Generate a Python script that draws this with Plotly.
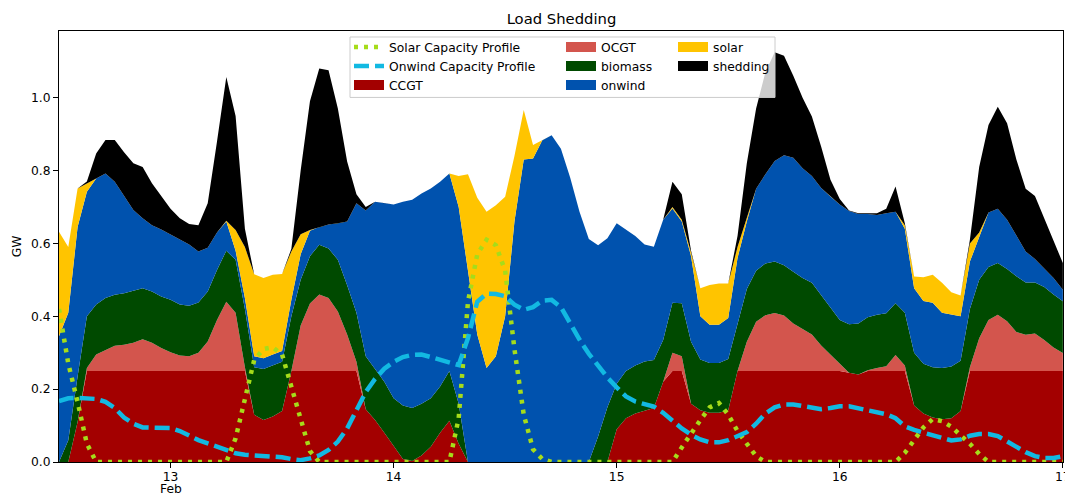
import pandas as pd
import plotly.graph_objects as go

# Hourly snapshots, 12 Feb 12:00 -> 17 Feb 00:00
snapshots = pd.date_range("2013-02-12 12:00", "2013-02-17 00:00", freq="h")

# Dispatch per carrier (GW)
ccgt = [0, 0, 0.11, 0.25, 0.25, 0.25, 0.25, 0.25, 0.25, 0.25, 0.25, 0.25, 0.25, 0.25, 0.25, 0.25, 0.25, 0.25, 0.25, 0.25, 0.25,
        0.13, 0.115, 0.125, 0.14, 0.25, 0.25, 0.25, 0.25, 0.25, 0.25, 0.25, 0.25,
        0.145, 0.115, 0.08, 0.045, 0.008, 0.003, 0.018, 0.042, 0.08, 0.113, 0.05,
        0, 0, 0, 0, 0, 0, 0, 0, 0, 0, 0, 0, 0, 0, 0, 0,
        0.09, 0.12, 0.133, 0.14, 0.148, 0.22, 0.25, 0.25, 0.16, 0.142, 0.135, 0.135, 0.142,
        0.25, 0.25, 0.25, 0.25, 0.25, 0.25, 0.25, 0.25, 0.25, 0.25, 0.25, 0.25, 0.245, 0.24,
        0.25, 0.25, 0.25, 0.25, 0.25, 0.155, 0.133, 0.122, 0.117, 0.12, 0.14,
        0.25, 0.25, 0.25, 0.25, 0.25, 0.25, 0.25, 0.25, 0.25, 0.25, 0.25]

ocgt = [0, 0, 0, 0.008, 0.045, 0.058, 0.069, 0.072, 0.077, 0.087, 0.077, 0.063, 0.051, 0.042, 0.04, 0.05, 0.081, 0.14, 0.19, 0.16, 0.01,
        0, 0, 0, 0, 0, 0.125, 0.185, 0.21, 0.2, 0.163, 0.1, 0.025,
        0, 0, 0, 0, 0, 0, 0, 0, 0, 0, 0, 0, 0, 0, 0, 0, 0, 0, 0, 0, 0, 0, 0, 0, 0, 0, 0, 0, 0, 0, 0, 0, 0,
        0.05, 0.04, 0, 0, 0, 0, 0, 0,
        0.08, 0.135, 0.153, 0.159, 0.152, 0.13, 0.114, 0.1, 0.07, 0.045, 0.02,
        0, 0, 0.002, 0.008, 0.013, 0.044, 0.015, 0, 0, 0, 0, 0, 0,
        0.01, 0.09, 0.14, 0.154, 0.136, 0.107, 0.099, 0.103, 0.085, 0.064, 0.049]

biomass = [0, 0.06, 0.125, 0.142, 0.137, 0.142, 0.14, 0.141, 0.143, 0.14, 0.141, 0.141, 0.144, 0.14, 0.139, 0.138, 0.137, 0.137, 0.14, 0.145, 0.16,
           0.13, 0.14, 0.14, 0.135, 0.15, 0.125, 0.13, 0.136, 0.136, 0.142, 0.135, 0.135,
           0.145, 0.14, 0.14, 0.13, 0.147, 0.145, 0.142, 0.133, 0.127, 0.137, 0.11,
           0, 0, 0, 0, 0, 0, 0, 0, 0, 0, 0, 0, 0, 0,
           0.07, 0.15, 0.125, 0.13, 0.132, 0.136, 0.132, 0.115, 0.137, 0.146, 0.17, 0.139, 0.137, 0.137, 0.141,
           0.13, 0.145, 0.14, 0.142, 0.141, 0.138, 0.142, 0.141, 0.142, 0.138, 0.13, 0.12, 0.133, 0.14, 0.145, 0.146,
           0.145, 0.142, 0.145, 0.145, 0.137, 0.138, 0.141, 0.142, 0.138, 0.16, 0.16, 0.145, 0.142, 0.144, 0.153,
           0.144, 0.14, 0.145, 0.146, 0.142]

onwind = [0.345, 0.35, 0.41, 0.342, 0.346, 0.342, 0.31, 0.267, 0.222, 0.192, 0.182, 0.184, 0.179, 0.18, 0.168, 0.14, 0.12, 0.103, 0.08, 0.025, 0.03,
          0.03, 0.03, 0.03, 0.03, 0.045, 0.07, 0.07, 0.049, 0.066, 0.1, 0.175, 0.3,
          0.4, 0.459, 0.49, 0.532, 0.559, 0.572, 0.577, 0.576, 0.562, 0.542, 0.54,
          0.52, 0.35, 0.258, 0.29, 0.4, 0.66, 0.83, 0.833, 0.883, 0.897, 0.86, 0.78, 0.687, 0.612,
          0.525, 0.464, 0.44, 0.387, 0.355, 0.321, 0.311, 0.33, 0.259, 0.224, 0.235, 0.119, 0.105, 0.105, 0.112,
          0.18, 0.185, 0.225, 0.245, 0.276, 0.302, 0.313, 0.301, 0.293, 0.294, 0.304, 0.317, 0.311, 0.301, 0.284, 0.274,
          0.275, 0.251, 0.23, 0.177, 0.172, 0.177, 0.152, 0.143, 0.122, 0.13, 0.12, 0.15, 0.149, 0.135, 0.112,
          0.085, 0.064, 0.05, 0.045, 0.032]

solar = [0.287, 0.18, 0.106, 0.023, 0.002, 0, 0, 0, 0, 0, 0, 0, 0, 0, 0, 0, 0, 0,
         0.002, 0.057, 0.14, 0.225, 0.22, 0.219, 0.211, 0.133, 0.055, 0.002,
         0, 0, 0, 0, 0, 0, 0, 0, 0, 0, 0, 0, 0, 0, 0,
         0.085, 0.27, 0.375, 0.429, 0.415, 0.328, 0.18, 0.136, 0.037,
         0, 0, 0, 0, 0, 0, 0, 0, 0, 0, 0, 0, 0, 0,
         0.004, 0.005, 0.01, 0.077, 0.109, 0.113, 0.095, 0.03, 0.01,
         0, 0, 0, 0, 0, 0, 0, 0, 0, 0, 0, 0, 0, 0, 0, 0,
         0.01, 0.032, 0.065, 0.077, 0.082, 0.061, 0.057, 0.05, 0.01,
         0, 0, 0, 0, 0, 0, 0, 0, 0]

shedding = [0, 0, 0, 0.005, 0.067, 0.092, 0.115, 0.12, 0.128, 0.141, 0.115, 0.092, 0.071, 0.057, 0.056, 0.072, 0.122, 0.25, 0.395, 0.313, 0.05,
            0, 0, 0, 0, 0.007, 0.175, 0.353, 0.435, 0.423, 0.315, 0.165, 0.025, 0.01,
            0, 0, 0, 0, 0, 0, 0, 0, 0, 0, 0, 0, 0, 0, 0, 0, 0, 0, 0, 0, 0, 0, 0, 0, 0, 0, 0, 0, 0, 0, 0, 0,
            0.069, 0.07, 0.005, 0, 0, 0, 0,
            0.03, 0.15, 0.22, 0.28, 0.299, 0.273, 0.225, 0.194, 0.163, 0.113, 0.046, 0.015, 0.001, 0.002, 0.002, 0.005,
            0.012, 0.069, 0.005, 0, 0, 0, 0, 0, 0,
            0.01, 0.18, 0.24, 0.28, 0.265, 0.208, 0.172, 0.173, 0.14, 0.1, 0.073]

# Per-unit availability profiles
solar_cf = [0.42, 0.27, 0.165, 0.05, 0, 0, 0, 0, 0, 0, 0, 0, 0, 0, 0, 0, 0, 0,
            0.0, 0.065, 0.175, 0.28, 0.31, 0.315, 0.295, 0.21, 0.115, 0.03,
            0, 0, 0, 0, 0, 0, 0, 0, 0, 0, 0, 0, 0, 0, 0,
            0.12, 0.44, 0.57, 0.61, 0.595, 0.525, 0.31, 0.13, 0.035, 0.008,
            0, 0, 0, 0, 0, 0, 0, 0, 0, 0, 0, 0, 0, 0,
            0.04, 0.08, 0.115, 0.15, 0.162, 0.13, 0.085, 0.05, 0.016,
            0, 0, 0, 0, 0, 0, 0, 0, 0, 0, 0, 0, 0, 0, 0,
            0.025, 0.06, 0.095, 0.118, 0.112, 0.097, 0.075, 0.05, 0.022,
            0, 0, 0, 0, 0, 0, 0, 0, 0]

onwind_cf = [0.167, 0.175, 0.176, 0.176, 0.173, 0.165, 0.148, 0.122, 0.105, 0.095, 0.094, 0.094, 0.093, 0.085, 0.072, 0.06, 0.051, 0.041,
             0.031, 0.024, 0.02, 0.018, 0.017, 0.016, 0.013, 0.008, 0.005, 0.01, 0.018, 0.033, 0.056, 0.092, 0.142, 0.192, 0.228, 0.256,
             0.275, 0.288, 0.294, 0.295, 0.288, 0.28, 0.272, 0.266, 0.34, 0.44, 0.462, 0.461, 0.455, 0.432, 0.418, 0.425, 0.443, 0.445,
             0.425, 0.38, 0.336, 0.297, 0.265, 0.232, 0.205, 0.18, 0.166, 0.158, 0.152, 0.135, 0.112, 0.092, 0.075, 0.062, 0.054, 0.054,
             0.06, 0.07, 0.082, 0.105, 0.133, 0.15, 0.158, 0.158, 0.153, 0.147, 0.145, 0.148, 0.153, 0.153, 0.148, 0.14, 0.135, 0.131,
             0.12, 0.098, 0.088, 0.08, 0.073, 0.065, 0.059, 0.062, 0.072, 0.077, 0.077, 0.071, 0.056, 0.042, 0.027, 0.016, 0.011, 0.011, 0.016]

# Axis ticks
day_ticks = pd.date_range("2013-02-13", "2013-02-17", freq="D")
day_labels = ["13", "14", "15", "16", "17"]
month_label = "Feb"

carriers = [
    ("CCGT", ccgt, "#a30000"),
    ("OCGT", ocgt, "#d3554d"),
    ("biomass", biomass, "#004a00"),
    ("onwind", onwind, "#0052ae"),
    ("solar", solar, "#ffc400"),
    ("shedding", shedding, "#000000"),
]
for _, vals, _ in carriers:
    assert len(vals) == len(snapshots)
assert len(solar_cf) == len(snapshots) and len(onwind_cf) == len(snapshots)

FONT = "DejaVu Sans"
SOLAR_CF_COLOR = "#a6dc1a"
ONWIND_CF_COLOR = "#12b9e2"

fig = go.Figure()

# Stacked dispatch areas
for name, vals, color in carriers:
    fig.add_trace(go.Scatter(
        x=snapshots, y=vals, name=name, mode="lines", stackgroup="dispatch",
        line=dict(width=0, color=color), fillcolor=color,
        showlegend=False, legendgroup=name, hoverinfo="skip",
    ))

# Capacity profiles on top
fig.add_trace(go.Scatter(
    x=snapshots, y=solar_cf, name="Solar Capacity Profile", mode="lines",
    line=dict(color=SOLAR_CF_COLOR, width=4.5, dash="4px,6px"), legend="legend",
))
fig.add_trace(go.Scatter(
    x=snapshots, y=onwind_cf, name="Onwind Capacity Profile", mode="lines",
    line=dict(color=ONWIND_CF_COLOR, width=4.5, dash="15px,6px"), legend="legend",
))

# Legend patches for the stacked carriers, laid out in three columns
columns = {"legend": ["CCGT"], "legend2": ["OCGT", "biomass", "onwind"], "legend3": ["solar", "shedding"]}
colour_of = {n: c for n, _, c in carriers}
for legend_id, names in columns.items():
    for n in names:
        fig.add_trace(go.Scatter(
            x=[None], y=[None], name=n, mode="lines",
            line=dict(color=colour_of[n], width=10), legend=legend_id, legendgroup=n,
        ))

# Plot-area geometry in pixels
W, H = 1065, 498
L, R, T, B = 59, 2, 31, 35.5
pw, ph = W - L - R, H - T - B


def px_x(px):
    return (px - L) / pw


def px_y(py):
    return (H - B - py) / ph


legend_common = dict(
    bgcolor="rgba(0,0,0,0)", borderwidth=0, font=dict(family=FONT, size=12.3, color="#000"),
    orientation="v", xanchor="left", yanchor="top", itemwidth=30, tracegroupgap=0,
    xref="paper", yref="paper",
)

fig.update_layout(
    width=W, height=H,
    margin=dict(l=L, r=R, t=T, b=B, autoexpand=False),
    paper_bgcolor="white", plot_bgcolor="white",
    font=dict(family=FONT, size=12.3, color="#000"),
    title=dict(text="Load Shedding", x=px_x(561.5), xref="paper", xanchor="center",
               y=1 - 18.5 / H, yref="container", yanchor="middle",
               font=dict(family=FONT, size=14.8, color="#000")),
    legend=dict(x=px_x(349), y=px_y(32.5), **legend_common),
    legend2=dict(x=px_x(561), y=px_y(32.5), **legend_common),
    legend3=dict(x=px_x(673), y=px_y(32.5), **legend_common),
    showlegend=True,
)

fig.update_xaxes(
    type="date",
    range=[snapshots[0], snapshots[-1] + pd.Timedelta(minutes=1)],
    tickvals=day_ticks,
    ticktext=day_labels,
    ticklabeloverflow="allow",
    ticklabelstandoff=-2,
    automargin=False,
    showgrid=False, zeroline=False,
    showline=True, mirror=True, linecolor="black", linewidth=1,
    ticks="outside", ticklen=5, tickwidth=1, tickcolor="black",
    tickfont=dict(family=FONT, size=12.3, color="#000"),
)
fig.update_yaxes(
    range=[0, 1.183],
    tickvals=[0, 0.2, 0.4, 0.6, 0.8, 1.0],
    tickformat=".1f",
    automargin=False,
    showgrid=False, zeroline=False,
    showline=True, mirror=True, linecolor="black", linewidth=1,
    ticks="outside", ticklen=5, tickwidth=1, tickcolor="black",
    tickfont=dict(family=FONT, size=12.3, color="#000"),
    title=dict(text="GW", standoff=6, font=dict(family=FONT, size=12.3, color="#000")),
)

# Month label under the first day tick
fig.add_annotation(
    x=day_ticks[0], xref="x", y=px_y(490), yref="paper",
    text=month_label, showarrow=False, xanchor="center", yanchor="middle",
    font=dict(family=FONT, size=12.3, color="#000"),
)

# Legend frame (semi-transparent white box with light grey edge)
fig.add_shape(
    type="rect", xref="paper", yref="paper",
    x0=px_x(350), x1=px_x(775), y0=px_y(97.5), y1=px_y(37),
    fillcolor="rgba(255,255,255,0.8)", line=dict(color="#cccccc", width=1), layer="above",
)

fig.write_html("out.html")
